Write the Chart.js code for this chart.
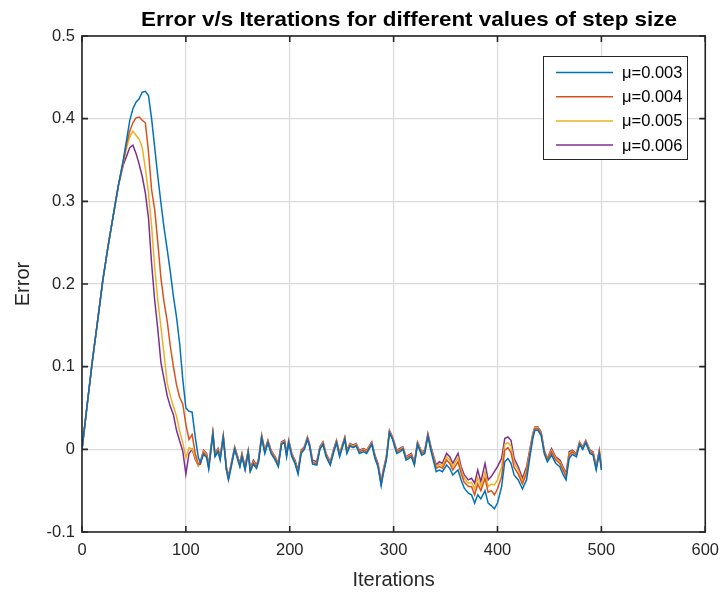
<!DOCTYPE html>
<html>
<head>
<meta charset="utf-8">
<script src="https://cdn.jsdelivr.net/npm/chart.js@4"></script>
<style>
html,body{margin:0;padding:0;background:#ffffff;}
#wrap{width:728px;height:594px;}
</style>
</head>
<body>
<div id="wrap"><canvas id="c" width="728" height="594"></canvas></div>
<script>
// ---------- data ----------
const iterations = [0,5,10,15,20,25,30,35,40,43,46,49,52,55,58,61,64,67,70,73,76,79,82,85,88,91,94,97,100,103,106,109,112,
114,117,120,122,126,128,131,133,136,139,
141,144,147,149,152,154,157,160,162,165,
168,170,173,176,179,182,186,189,192,195,
197,199,202,205,208,211,214,217,219,222,
226,229,232,235,239,242,245,248,253,255,
258,261,264,267,271,274,279,282,285,288,
290,293,296,299,303,306,309,312,317,320,
323,327,330,333,336,341,344,347,351,354,
357,362,365,368,372,375,378,381,384,388,
391,394,397,400,404,407,410,413,416,420,
424,428,431,434,436,439,442,445,448,452,
456,460,463,466,469,472,476,479,482,485,
489,492,495,498,500];

const mu003 = [0,.054,.107,.155,.204,.245,.282,.319,.352,.375,.398,.412,.42,.424,.432,.433,.428,.40,.365,.33,.298,.268,.242,.215,.185,.16,.128,.085,.05,.046,.045,.015,-.01,
-.016,-.006,-.01,-.024,.018,-.009,-.003,-.013,.014,-.025,
-.037,-.019,0,-.009,-.021,-.009,-.025,-.004,-.027,-.018,
-.023,-.015,.014,-.005,.008,-.005,-.013,-.021,.006,.008,
-.009,.008,-.009,-.017,-.03,-.005,0,.012,.004,-.018,
-.019,0,.006,-.009,-.019,-.005,.008,-.009,.012,-.005,
.004,.002,.004,-.005,-.003,-.005,.006,-.011,-.021,-.044,
-.03,-.013,.02,.012,-.005,-.003,0,-.013,-.009,-.019,
.006,-.007,-.005,.016,-.002,-.027,-.025,-.027,-.019,-.023,
-.031,-.025,-.037,-.047,-.053,-.055,-.065,-.055,-.06,-.05,
-.065,-.068,-.072,-.065,-.045,-.015,-.011,-.017,-.031,-.037,
-.048,-.037,-.011,.013,.023,.023,.017,-.005,-.015,-.007,
-.017,-.021,-.03,-.037,-.011,-.006,-.009,.006,0,.008,
-.005,-.007,-.025,-.005,-.025];

const mu004 = [0,.054,.107,.155,.204,.245,.282,.319,.35,.37,.385,.395,.401,.402,.398,.395,.36,.314,.29,.25,.207,.178,.155,.125,.10,.078,.063,.055,.03,.012,.018,-.005,-.018,
-.018,-.004,-.008,-.022,.019,-.007,-.001,-.011,.015,-.024,
-.036,-.018,.001,-.007,-.02,-.007,-.024,-.003,-.026,-.016,
-.022,-.013,.015,-.003,.009,-.003,-.011,-.02,.007,.009,
-.007,.009,-.007,-.016,-.028,-.003,.001,.013,.005,-.016,
-.018,.001,.007,-.007,-.018,-.003,.009,-.007,.013,-.003,
.005,.003,.005,-.003,-.001,-.003,.007,-.009,-.02,-.042,
-.028,-.011,.021,.013,-.003,-.001,.001,-.011,-.007,-.018,
.007,-.005,-.003,.017,0,-.023,-.021,-.023,-.013,-.017,
-.025,-.015,-.029,-.04,-.045,-.045,-.055,-.042,-.05,-.035,
-.052,-.05,-.055,-.048,-.033,-.001,.002,-.004,-.022,-.03,
-.042,-.029,-.006,.016,.025,.025,.019,-.003,-.013,-.003,
-.013,-.017,-.025,-.033,-.007,-.003,-.007,.007,.001,.009,
-.003,-.005,-.023,-.003,-.023];

const mu005 = [0,.054,.107,.155,.204,.245,.282,.319,.348,.365,.378,.385,.38,.375,.365,.34,.31,.27,.22,.18,.148,.115,.08,.065,.052,.04,.022,.008,-.01,.002,0,-.01,-.02,
-.017,-.002,-.006,-.021,.02,-.006,0,-.01,.016,-.023,
-.035,-.017,.002,-.006,-.019,-.006,-.023,-.002,-.025,-.015,
-.021,-.012,.016,-.002,.01,-.002,-.01,-.019,.008,.01,
-.006,.01,-.006,-.015,-.027,-.002,.002,.014,.006,-.015,
-.017,.002,.008,-.006,-.017,-.002,.01,-.006,.014,-.002,
.006,.004,.006,-.002,0,-.002,.008,-.008,-.019,-.041,
-.027,-.01,.022,.014,-.002,0,.002,-.01,-.006,-.017,
.008,-.004,-.002,.018,.001,-.021,-.018,-.02,-.009,-.013,
-.021,-.01,-.025,-.035,-.041,-.04,-.048,-.034,-.045,-.027,
-.045,-.042,-.043,-.037,-.021,.006,.008,.004,-.016,-.025,
-.039,-.025,-.004,.018,.026,.026,.02,-.002,-.012,-.001,
-.011,-.015,-.023,-.031,-.005,-.002,-.006,.008,.002,.01,
-.002,-.004,-.022,-.002,-.022];

const mu006 = [0,.054,.107,.155,.204,.245,.282,.319,.345,.355,.365,.368,.358,.345,.33,.31,.28,.225,.18,.145,.105,.085,.065,.052,.042,.023,.01,-.002,-.03,-.005,0,-.012,-.02,
-.015,-.001,-.005,-.019,.021,-.005,.001,-.009,.017,-.021,
-.033,-.015,.003,-.005,-.017,-.005,-.021,-.001,-.023,-.013,
-.019,-.011,.017,-.001,.011,-.001,-.009,-.017,.009,.011,
-.005,.011,-.005,-.013,-.025,-.001,.003,.015,.007,-.013,
-.015,.003,.009,-.005,-.015,-.001,.011,-.005,.015,-.001,
.007,.005,.007,-.001,.001,-.001,.009,-.007,-.017,-.039,
-.025,-.009,.023,.015,-.001,.001,.003,-.009,-.005,-.015,
.009,-.003,-.001,.019,.003,-.019,-.015,-.017,-.005,-.009,
-.017,-.005,-.021,-.031,-.037,-.035,-.041,-.025,-.039,-.017,
-.037,-.033,-.027,-.021,-.011,.013,.015,.011,-.011,-.021,
-.035,-.021,-.001,.019,.027,.027,.021,-.001,-.011,.001,
-.009,-.013,-.021,-.029,-.003,-.001,-.005,.009,.003,.011,
-.001,-.003,-.021,-.001,-.021];

const seriesLabels = ['\u03bc=0.003','\u03bc=0.004','\u03bc=0.005','\u03bc=0.006'];
const seriesColors = ['#0072BD','#D95319','#EDB120','#7E2F8E'];
const xTicks = [0,100,200,300,400,500,600];
const yTicks = [-0.1,0,0.1,0.2,0.3,0.4,0.5];
const titleText = 'Error v/s Iterations for different values of step size';
const xTitle = 'Iterations';
const yTitle = 'Error';

// ---------- drawing ----------
const FONT = '"Liberation Sans", Arial, Helvetica, sans-serif';
const TXT = '#262626';
const allSeries = [mu003, mu004, mu005, mu006];

const framePlugin = {
  id: 'frame',
  afterDraw(chart) {
    const {ctx, chartArea: a, scales: {x, y}} = chart;
    ctx.save();
    ctx.strokeStyle = TXT;
    ctx.lineWidth = 1.6;
    ctx.strokeRect(a.left, a.top, a.right - a.left, a.bottom - a.top);
    ctx.beginPath();
    const tl = 6;
    xTicks.forEach(v => {
      const px = x.getPixelForValue(v);
      ctx.moveTo(px, a.bottom); ctx.lineTo(px, a.bottom - tl);
      ctx.moveTo(px, a.top); ctx.lineTo(px, a.top + tl);
    });
    yTicks.forEach(v => {
      const py = y.getPixelForValue(v);
      ctx.moveTo(a.left, py); ctx.lineTo(a.left + tl, py);
      ctx.moveTo(a.right, py); ctx.lineTo(a.right - tl, py);
    });
    ctx.stroke();
    ctx.restore();
  }
};

const titlePlugin = {
  id: 'mtitle',
  afterDraw(chart) {
    const ctx = chart.ctx;
    ctx.save();
    ctx.font = 'bold 20.5px ' + FONT;
    ctx.fillStyle = '#000000';
    ctx.textBaseline = 'alphabetic';
    ctx.textAlign = 'left';
    const w = ctx.measureText(titleText).width;
    const targetW = 536;
    ctx.translate(141, 26);
    ctx.scale(targetW / w, 1);
    ctx.fillText(titleText, 0, 0);
    ctx.restore();
  }
};

const legendPlugin = {
  id: 'mlegend',
  afterDraw(chart) {
    const ctx = chart.ctx;
    ctx.save();
    ctx.fillStyle = '#ffffff';
    ctx.fillRect(543.5, 56.5, 144, 103);
    ctx.strokeStyle = TXT;
    ctx.lineWidth = 1;
    ctx.strokeRect(543.5, 56.5, 144, 103);
    ctx.font = '16.5px ' + FONT;
    ctx.textBaseline = 'middle';
    ctx.textAlign = 'left';
    chart.data.datasets.forEach((ds, i) => {
      const yy = 72.5 + i * 24.2;
      ctx.strokeStyle = ds.borderColor;
      ctx.lineWidth = 1.5;
      ctx.beginPath();
      ctx.moveTo(556, yy); ctx.lineTo(613, yy);
      ctx.stroke();
      ctx.fillStyle = '#000000';
      ctx.fillText(ds.label, 622, yy + 1);
    });
    ctx.restore();
  }
};

new Chart(document.getElementById('c').getContext('2d'), {
  type: 'line',
  data: {
    datasets: allSeries.map((s, i) => ({
      label: seriesLabels[i],
      data: iterations.map((it, k) => ({x: it, y: s[k]})),
      borderColor: seriesColors[i],
      backgroundColor: seriesColors[i],
      borderWidth: 1.5,
      pointRadius: 0,
      tension: 0,
      fill: false
    }))
  },
  options: {
    responsive: false,
    animation: false,
    devicePixelRatio: 1,
    layout: {padding: {left: 0, top: 36, right: 22, bottom: 0}},
    plugins: {legend: {display: false}, title: {display: false}, tooltip: {enabled: false}},
    scales: {
      x: {
        type: 'linear', min: 0, max: 600,
        afterBuildTicks: s => { s.ticks = xTicks.map(v => ({value: v})); },
        afterFit: s => { s.height = 62; },
        grid: {color: '#dadada', lineWidth: 1.2, drawTicks: false},
        border: {display: false},
        ticks: {padding: 9, color: TXT, font: {family: FONT, size: 16.5}, maxRotation: 0, autoSkip: false,
                callback: v => String(v)},
        title: {display: true, text: xTitle, color: TXT, font: {family: FONT, size: 20}, padding: {top: 0, bottom: 2}}
      },
      y: {
        type: 'linear', min: -0.1, max: 0.5,
        afterBuildTicks: s => { s.ticks = yTicks.map(v => ({value: v})); },
        afterFit: s => { s.width = 82; },
        grid: {color: '#dadada', lineWidth: 1.2, drawTicks: false},
        border: {display: false},
        ticks: {padding: 7, color: TXT, font: {family: FONT, size: 16.5}, autoSkip: false,
                callback: v => String(Number(v.toFixed(1)))},
        title: {display: true, text: yTitle, color: TXT, font: {family: FONT, size: 20}, padding: {top: 11, bottom: 0}}
      }
    }
  },
  plugins: [framePlugin, legendPlugin, titlePlugin]
});
</script>
</body>
</html>
